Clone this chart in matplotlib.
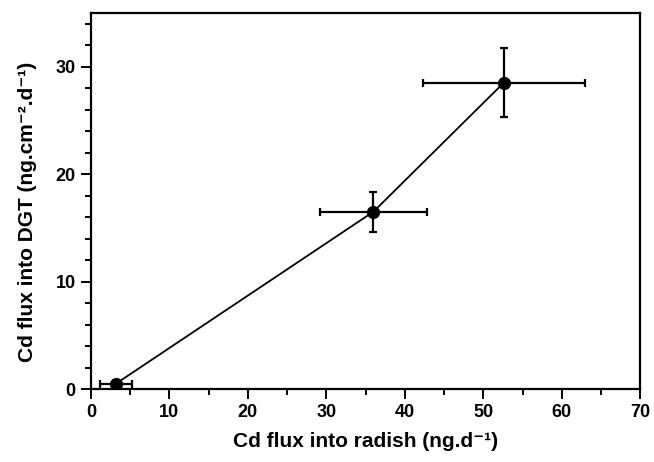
import matplotlib.pyplot as plt
from matplotlib.ticker import MultipleLocator

# Data
radish_flux = [3.2, 36.0, 52.6]
radish_err = [2.0, 6.8, 10.3]
dgt_flux = [0.5, 16.5, 28.5]
dgt_err = [0.2, 1.85, 3.2]

plt.rcParams['font.family'] = ['Liberation Sans', 'DejaVu Sans']
plt.rcParams['font.weight'] = 'bold'

fig = plt.figure(figsize=(6.54, 4.62), dpi=100)
ax = fig.add_axes([0.139, 0.158, 0.84, 0.814])

ax.plot(radish_flux, dgt_flux, color='black', lw=1.3, zorder=2)
ax.errorbar(radish_flux, dgt_flux, xerr=radish_err, yerr=dgt_err,
            fmt='o', color='black', ms=8.5, elinewidth=1.6, capsize=3,
            capthick=1.6, zorder=3)

ax.set_xlim(0, 70)
ax.set_ylim(0, 35)
ax.xaxis.set_major_locator(MultipleLocator(10))
ax.xaxis.set_minor_locator(MultipleLocator(5))
ax.yaxis.set_major_locator(MultipleLocator(10))
ax.yaxis.set_minor_locator(MultipleLocator(2))

for s in ax.spines.values():
    s.set_linewidth(1.6)

ax.tick_params(which='both', direction='out', top=False, right=False, width=1.4)
ax.tick_params(which='major', length=7, labelsize=13, pad=4)
ax.tick_params(which='minor', length=4)

ax.set_xlabel('Cd flux into radish (ng.d\u207b\u00b9)', fontsize=15, fontweight='bold', labelpad=8)
ax.set_ylabel('Cd flux into DGT (ng.cm\u207b\u00b2.d\u207b\u00b9)', fontsize=15, fontweight='bold', labelpad=8)
ax.yaxis.set_label_coords(-0.098, 0.47)

fig.savefig('out.png', dpi=100)
